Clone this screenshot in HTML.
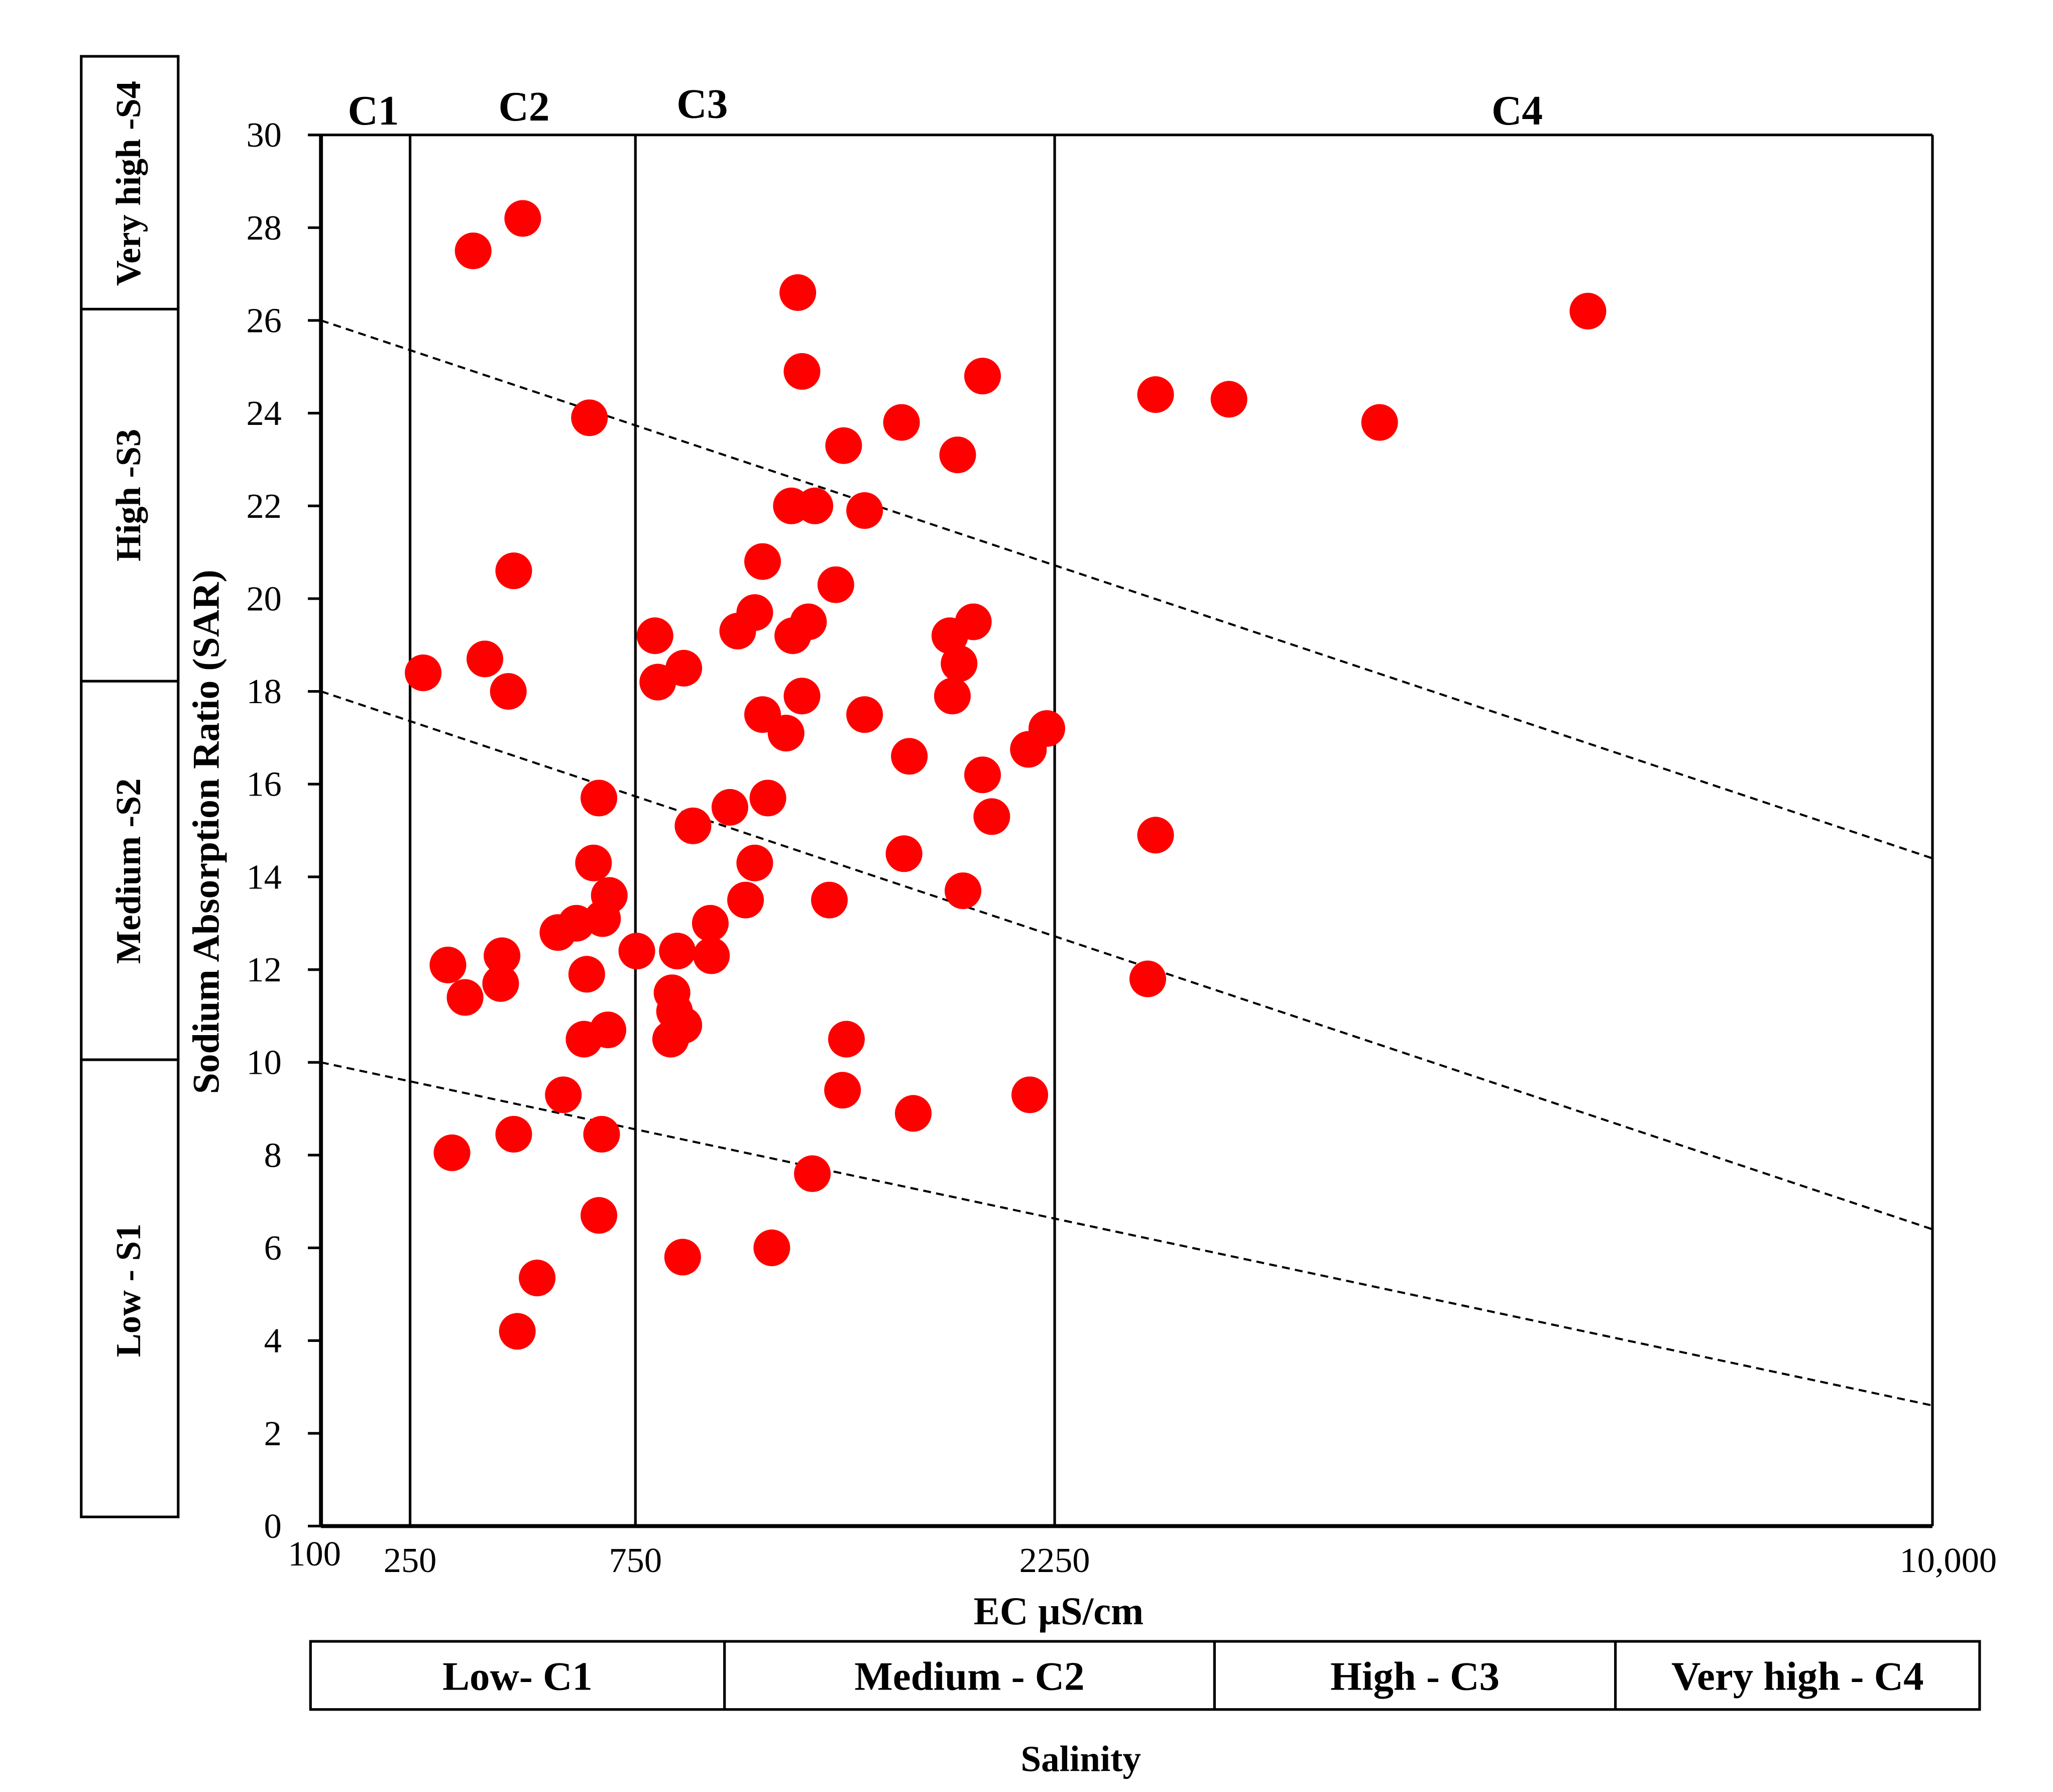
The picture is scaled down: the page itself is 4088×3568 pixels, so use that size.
<!DOCTYPE html>
<html><head><meta charset="utf-8"><style>
html,body{margin:0;padding:0;background:#fff;}
svg{display:block;font-family:"Liberation Serif",serif;}
</style></head><body>
<svg id="chart" width="4088" height="3568" viewBox="0 0 1567 1368" preserveAspectRatio="none" xmlns="http://www.w3.org/2000/svg">
<g fill="none" stroke="#000" stroke-width="2">
<rect x="62" y="43" width="74" height="1115"/>
<line x1="62" y1="236" x2="136" y2="236"/><line x1="62" y1="520" x2="136" y2="520"/><line x1="62" y1="809" x2="136" y2="809"/>
</g>
<g font-weight="bold" font-size="27" text-anchor="middle">
<text transform="translate(107,140) rotate(-90)">Very high -S4</text>
<text transform="translate(107,378) rotate(-90)">High -S3</text>
<text transform="translate(107,665) rotate(-90)">Medium -S2</text>
<text transform="translate(107,985) rotate(-90)">Low - S1</text>
</g>
<g fill="none" stroke="#000" stroke-width="2">
<rect x="237" y="1253" width="1274" height="52"/>
<line x1="553" y1="1253" x2="553" y2="1305"/><line x1="927" y1="1253" x2="927" y2="1305"/><line x1="1233" y1="1253" x2="1233" y2="1305"/>
</g>
<g font-weight="bold" font-size="31" text-anchor="middle">
<text x="395" y="1290">Low- C1</text>
<text x="740" y="1290">Medium - C2</text>
<text x="1080" y="1290">High - C3</text>
<text x="1372" y="1290">Very high - C4</text>
<text x="825" y="1352" font-size="28">Salinity</text>
<text x="808" y="1240" font-size="30">EC µS/cm</text>
<text transform="translate(167,635) rotate(-90)" font-size="29">Sodium Absorption Ratio (SAR)</text>
<text x="285" y="95" font-size="32">C1</text>
<text x="400" y="92" font-size="32">C2</text>
<text x="536" y="90" font-size="32">C3</text>
<text x="1158" y="95" font-size="32">C4</text>
</g>
<g id="frame" stroke="#000" fill="none">
<line x1="235" y1="103" x2="1475" y2="103" stroke-width="2"/>
<line x1="245" y1="103" x2="245" y2="1165" stroke-width="3"/>
<line x1="1475" y1="103" x2="1475" y2="1165" stroke-width="2"/>
<line x1="245" y1="1165" x2="1475" y2="1165" stroke-width="3"/>
</g>
<g id="marks"></g>
</svg>
<script>
const yTicks=[0,2,4,6,8,10,12,14,16,18,20,22,24,26,28,30];
const xTickValues=[100,250,750,2250,10000];
const xTickLabels=["100","250","750","2250","10,000"];
const classBoundaries=[250,750,2250];
const ecValues=[390,500,279,416,468,480,648,334,372,451,454,343,480,488,532,590,578,619,642,636,657,669,692,677,689,675,669,755,820,830,923,956,900,881,890,876,923,919,1018,1022,1088,1144,1177,1224,1205,1289,1116,1177,1205,1308,1392,1313,1369,1346,1331,1346,1495,1467,1570,1570,1444,1505,1491,1383,1238,1702,1730,1711,1744,1903,1992,1875,1959,1908,1884,1992,2025,1922,2156,2222,2161,3141,3789,5119,6958,3141,3072];
const sarValues=[27.5,28.2,18.4,18.7,18.0,20.6,23.9,12.1,11.4,11.7,12.3,8.05,8.45,4.2,5.35,9.3,12.8,13.0,11.9,10.5,14.3,15.7,13.6,13.1,10.7,8.45,6.7,12.4,19.2,18.2,18.5,15.1,12.4,11.5,11.1,10.5,10.8,5.8,13.0,12.3,15.5,13.5,14.3,15.7,17.5,17.1,19.3,19.7,20.8,22.0,22.0,19.2,19.5,17.9,26.6,24.9,23.3,20.3,21.9,17.5,13.5,10.5,9.4,7.6,6.0,23.8,16.6,14.5,8.9,23.1,24.8,19.2,19.5,18.6,17.9,16.2,15.3,13.7,16.75,17.2,9.3,24.4,24.3,23.8,26.2,14.9,11.8];
const hazardLinesStart=[26,18,10];
const hazardLinesEnd=[14.4,6.4,2.6];

const xBreaks=[100,250,750,2250,10000], pxBreaks=[245,313,485,805,1475];
function xScale(v){for(let i=0;i<xBreaks.length-1;i++){if(v<=xBreaks[i+1]||i===xBreaks.length-2){return pxBreaks[i]+(v-xBreaks[i])/(xBreaks[i+1]-xBreaks[i])*(pxBreaks[i+1]-pxBreaks[i]);}}}
function yScale(v){return 1165-v*(1062/30);}
const NS="http://www.w3.org/2000/svg", g=document.getElementById('marks');
function mk(t,a){const e=document.createElementNS(NS,t);for(const k in a)e.setAttribute(k,a[k]);g.appendChild(e);return e;}
yTicks.forEach(t=>{
 const l=mk('line',{x1:235,x2:245,y1:yScale(t),y2:yScale(t),stroke:'#000','stroke-width':2});
 
 
 const tx=mk('text',{x:215,y:yScale(t)+9,'font-size':27,'text-anchor':'end'});tx.textContent=t;
 
 
});
xTickValues.forEach((v,i)=>{
 const tx=mk('text',{x:xScale(v)+(i===0?-5:(i===4?12:0)),y:i===0?1195:1200,'font-size':27,'text-anchor':'middle'});tx.textContent=xTickLabels[i];
 
 
});
classBoundaries.forEach(v=>{
 const l=mk('line',{x1:xScale(v),x2:xScale(v),y1:103,y2:1165,stroke:'#000','stroke-width':2});
 
 
});
hazardLinesStart.forEach((s,i)=>{
 const l=mk('line',{x1:xScale(100),y1:yScale(s),x2:xScale(10000),y2:yScale(hazardLinesEnd[i]),stroke:'#000','stroke-width':1.6,'stroke-dasharray':'6,4'});
 
 
});
ecValues.forEach((v,i)=>{
 const c=mk('circle',{cx:xScale(v),cy:yScale(sarValues[i]),r:14,fill:'#ff0000'});
 
 
});
</script>
</body></html>
